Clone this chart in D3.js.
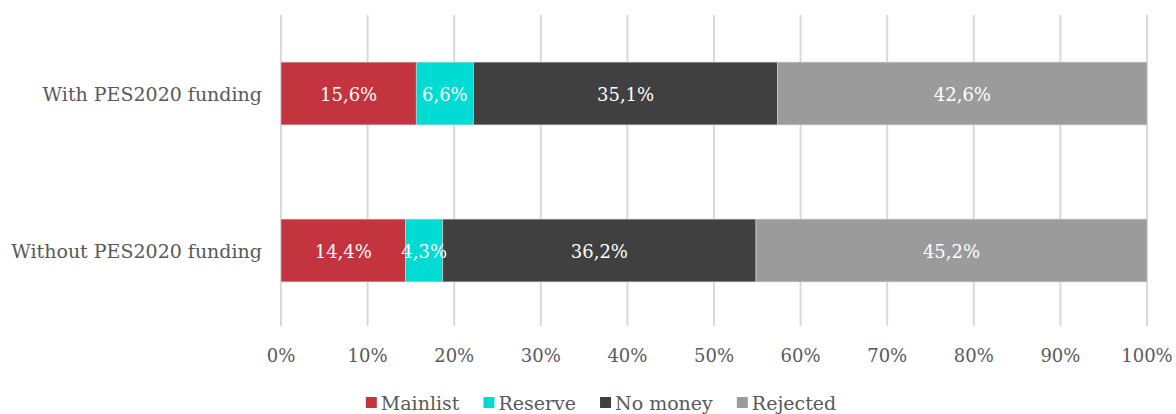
<!DOCTYPE html>
<html><head><meta charset="utf-8">
<script src="https://cdn.jsdelivr.net/npm/d3@7"></script>
<style>body{margin:0;background:#fff}</style>
</head><body><svg id="c" width="1176" height="414"></svg>
<script>
const categories = ["With PES2020 funding", "Without PES2020 funding"];
const seriesNames = ["Mainlist", "Reserve", "No money", "Rejected"];
const mainlist = [15.6, 14.4];
const reserve = [6.6, 4.3];
const noMoney = [35.1, 36.2];
const rejected = [42.6, 45.2];
const tickValues = [0, 0.1, 0.2, 0.3, 0.4, 0.5, 0.6, 0.7, 0.8, 0.9, 1];
const colors = ["#c3343f", "#00dcd4", "#404040", "#9b9b9b"];

const FONT = "Georgia, 'DejaVu Serif', serif";
const svg = d3.select("#c");
const rows = categories.map((c, i) => ({cat: c, "Mainlist": mainlist[i], "Reserve": reserve[i], "No money": noMoney[i], "Rejected": rejected[i]}));
const stacked = d3.stack().keys(seriesNames).offset(d3.stackOffsetExpand)(rows);

const x = d3.scaleLinear().domain([0, 1]).range([281, 1147]);
const y = d3.scaleBand().domain(categories).range([15, 329]).paddingInner(0.6).paddingOuter(0.3);

// gridlines
svg.append("g").selectAll("line").data(tickValues).join("line")
  .attr("x1", d => x(d)).attr("x2", d => x(d)).attr("y1", 15).attr("y2", 326)
  .attr("stroke", "#d9d9d9").attr("stroke-width", 2);

// axis labels
const fmtTick = d3.format(".0%");
svg.append("g").selectAll("text").data(tickValues).join("text")
  .attr("x", d => x(d)).attr("y", 362).attr("text-anchor", "middle")
  .attr("font-family", FONT).attr("font-size", 18).attr("fill", "#595959")
  .text(d => fmtTick(d));

// category labels
svg.append("g").selectAll("text").data(categories).join("text")
  .attr("x", 262).attr("y", d => y(d) + y.bandwidth() / 2 + 7).attr("text-anchor", "end")
  .attr("font-family", FONT).attr("font-size", 19).attr("fill", "#595959")
  .text(d => d);

// bars
const layers = svg.append("g").selectAll("g").data(stacked).join("g")
  .attr("fill", (d, i) => colors[i]);
layers.selectAll("rect").data(d => d).join("rect")
  .attr("x", d => x(d[0])).attr("width", d => x(d[1]) - x(d[0]))
  .attr("y", d => y(d.data.cat)).attr("height", y.bandwidth())
  .attr("stroke", "#d0d0d0").attr("stroke-width", 0.6);

// value labels
const fmtVal = v => v.toFixed(1).replace(".", ",") + "%";
stacked.forEach((layer, si) => {
  svg.append("g").selectAll("text").data(layer).join("text")
    .attr("x", d => (x(d[0]) + x(d[1])) / 2)
    .attr("y", d => y(d.data.cat) + y.bandwidth() / 2 + 7)
    .attr("text-anchor", "middle").attr("font-family", FONT).attr("font-size", 18)
    .attr("fill", "#ffffff")
    .text(d => fmtVal(d.data[seriesNames[si]]));
});

// legend, laid out from measured text widths and centred
const leg = svg.append("g");
const items = leg.selectAll("g").data(seriesNames).join("g");
items.append("rect").attr("x", 0).attr("y", 397).attr("width", 11).attr("height", 11)
  .attr("fill", (d, i) => colors[i]);
items.append("text").attr("x", 15).attr("y", 410)
  .attr("font-family", FONT).attr("font-size", 19).attr("fill", "#595959")
  .text(d => d);
let cx = 0;
const offs = [];
items.each(function () {
  offs.push(cx);
  const w = d3.select(this).select("text").node().getComputedTextLength();
  cx += 15 + w + 24;
});
const totalW = cx - 24;
const startX = 601 - totalW / 2;
items.attr("transform", (d, i) => `translate(${startX + offs[i]},0)`);
</script></body></html>
